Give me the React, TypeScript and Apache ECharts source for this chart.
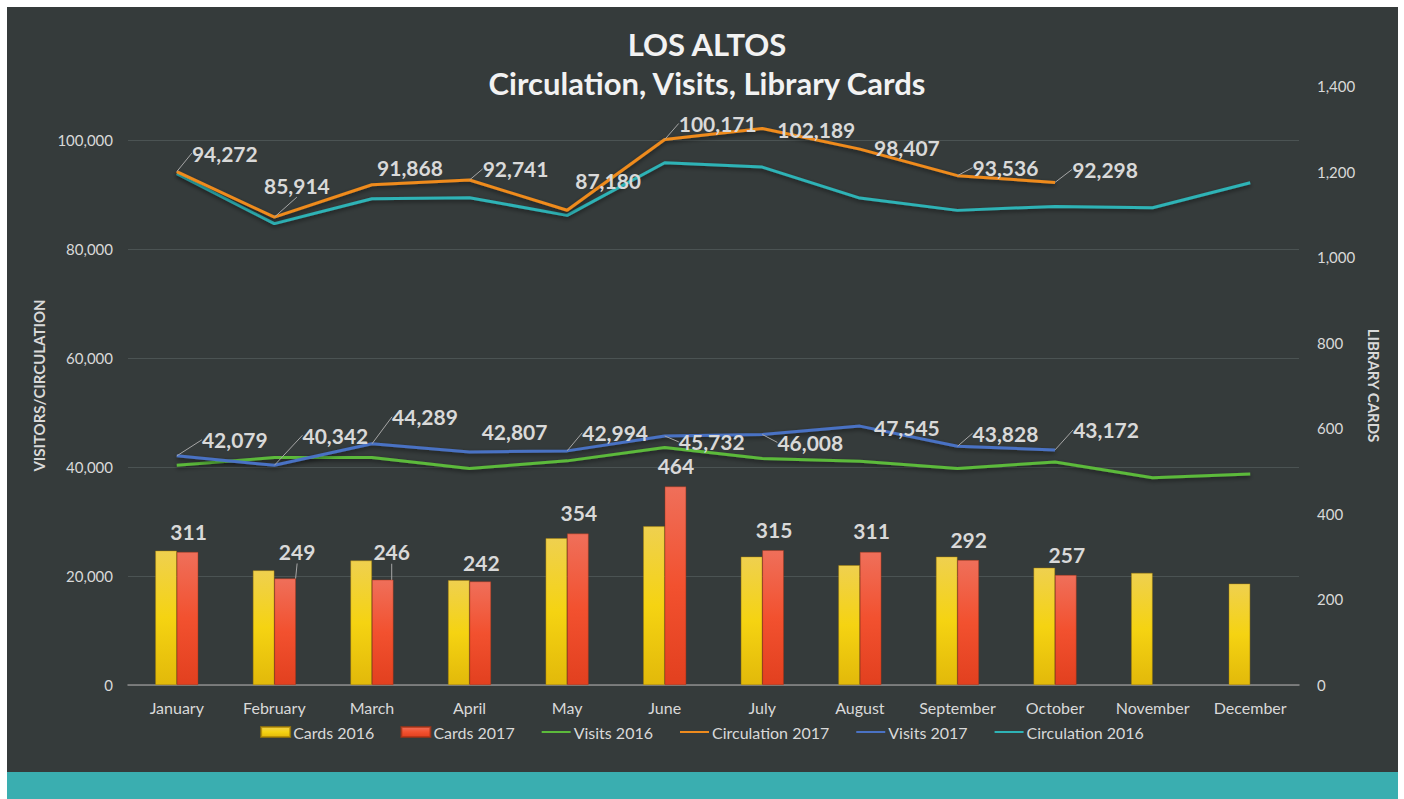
import React, { useEffect, useRef } from "react";
import * as echarts from "echarts";

const months = ["January", "February", "March", "April", "May", "June", "July", "August", "September", "October", "November", "December"];
const cards2016 = [314, 268, 291, 245, 343, 371, 300, 280, 300, 274, 262, 237];
const cards2017 = [311, 249, 246, 242, 354, 464, 315, 311, 292, 257];
const visits2016 = [40370, 41780, 41780, 39760, 41160, 43620, 41600, 41100, 39760, 40970, 38040, 38770];
const visits2017 = [42079, 40342, 44289, 42807, 42994, 45732, 46008, 47545, 43828, 43172];
const circulation2016 = [93890, 84720, 89300, 89490, 86240, 95910, 95110, 89420, 87160, 87890, 87650, 92240];
const circulation2017 = [94272, 85914, 91868, 92741, 87180, 100171, 102189, 98407, 93536, 92298];
const leftTicks = { min: 0, max: 110000, interval: 20000 };
const rightTicks = { min: 0, max: 1400, interval: 200 };

// label placement (offset of label centre from its point), layout only
const circ17Off = [[48, -18.5], [22.5, -32], [38, -17], [46, -11], [41, -30], [53, -16], [54, 1], [47, -2], [48, -8], [50, -13]];
const visits17Off = [[58, -16], [61, -30], [53, -27], [45, -20], [48, -18], [47, 6], [48, 8], [47, 1], [48, -13], [51, -20]];
const cards17Off = [[1, -20], [12, -27], [9, -28], [1, -19], [1, -21], [0.5, -20.5], [1, -21], [1, -21], [0.5, -21], [1, -21]];
const circ17Lead = [1, 1, 0, 1, 0, 1, 0, 0, 1, 1];
const visits17Lead = [1, 1, 1, 0, 1, 1, 1, 0, 1, 1];
const cards17Lead = [0, 1, 1, 0, 0, 0, 0, 0, 0, 0];

const FONT = "Lato, 'Open Sans', sans-serif";
const TXT = "#d9d9d9";
const fmt = (v: number) => Number(v).toLocaleString("en-US");

const labelStyle = {
  show: true,
  position: "top",
  distance: 0,
  lineHeight: 24,
  fontSize: 21,
  fontWeight: "bold",
  fontFamily: FONT,
  color: TXT,
  formatter: (p: any) => fmt(p.value),
};

const withLeaders = (vals: number[], lead: number[]) =>
  vals.map((v, i) => ({ value: v, labelLine: { show: !!lead[i] } }));

const layoutFrom = (off: number[][]) => (params: any) => {
  const o = off[params.dataIndex] || [0, 0];
  return { dx: o[0], dy: o[1] + 12 };
};

const lineShadow = { shadowColor: "rgba(0,0,0,0.5)", shadowBlur: 4, shadowOffsetY: 2 };

export default function App() {
  const ref = useRef<HTMLDivElement>(null);
  useEffect(() => {
    if (!ref.current) return;
    const chart = echarts.init(ref.current, null, { renderer: "svg" });
    const yellow = new echarts.graphic.LinearGradient(0, 0, 0, 1, [
      { offset: 0, color: "#efd04f" },
      { offset: 0.5, color: "#f5d312" },
      { offset: 1, color: "#e2b90a" },
    ]);
    const red = new echarts.graphic.LinearGradient(0, 0, 0, 1, [
      { offset: 0, color: "#ef6f5a" },
      { offset: 0.5, color: "#f2512f" },
      { offset: 1, color: "#e2401f" },
    ]);
    const leaderStyle = { lineStyle: { color: "#a6a6a6", width: 1 } };
    chart.setOption({
      animation: false,
      backgroundColor: "transparent",
      textStyle: { fontFamily: FONT },
      title: {
        text: "LOS ALTOS\nCirculation, Visits, Library Cards",
        left: 702,
        top: 19,
        textAlign: "center",
        textStyle: { color: "#f2f2f2", fontSize: 31, fontWeight: "bold", lineHeight: 39, fontFamily: FONT },
      },
      legend: {
        bottom: 54,
        left: "center",
        itemWidth: 29,
        itemHeight: 10,
        itemGap: 26,
        textStyle: { color: TXT, fontSize: 16, fontFamily: FONT, padding: [0, 0, 0, -2] },
        data: [
          { name: "Cards 2016", icon: "rect" },
          { name: "Cards 2017", icon: "rect" },
          { name: "Visits 2016", itemStyle: { opacity: 0 } },
          { name: "Circulation 2017", itemStyle: { opacity: 0 } },
          { name: "Visits 2017", itemStyle: { opacity: 0 } },
          { name: "Circulation 2016", itemStyle: { opacity: 0 } },
        ],
      },
      grid: { left: 128, right: 105, top: 86, bottom: 114 },
      xAxis: {
        type: "category",
        data: months,
        axisTick: { show: false },
        axisLine: { lineStyle: { color: "#8c8c8c", width: 1.5 } },
        axisLabel: { color: TXT, fontSize: 16, margin: 14, interval: 0, fontFamily: FONT },
      },
      yAxis: [
        {
          type: "value",
          ...leftTicks,
          name: "VISITORS/CIRCULATION",
          nameLocation: "middle",
          nameGap: 82,
          nameTextStyle: { color: TXT, fontSize: 15, fontWeight: "bold", fontFamily: FONT },
          axisLabel: { color: TXT, fontSize: 15, margin: 15, showMaxLabel: false, formatter: (v: number) => fmt(v), fontFamily: FONT },
          axisLine: { show: false },
          axisTick: { show: false },
          splitLine: { lineStyle: { color: "#4b5353", width: 1 }, showMaxLine: false },
        },
        {
          type: "value",
          ...rightTicks,
          name: "LIBRARY CARDS",
          nameLocation: "middle",
          nameGap: 66,
          nameRotate: -90,
          nameTextStyle: { color: TXT, fontSize: 15, fontWeight: "bold", fontFamily: FONT },
          axisLabel: { color: TXT, fontSize: 15, margin: 18, formatter: (v: number) => fmt(v), fontFamily: FONT },
          axisLine: { show: false },
          axisTick: { show: false },
          splitLine: { show: false },
        },
      ],
      series: [
        {
          name: "Cards 2016",
          type: "bar",
          yAxisIndex: 1,
          data: cards2016,
          barWidth: 21.5,
          barGap: "0%",
          itemStyle: { color: yellow, borderColor: "rgba(170,130,0,0.7)", borderWidth: 0.6 },
        },
        {
          name: "Cards 2017",
          type: "bar",
          yAxisIndex: 1,
          data: withLeaders(cards2017, cards17Lead),
          barWidth: 21.5,
          barGap: "0%",
          itemStyle: { color: red, borderColor: "rgba(170,50,20,0.7)", borderWidth: 0.6 },
          label: { ...labelStyle },
          labelLine: leaderStyle,
          labelLayout: layoutFrom(cards17Off),
        },
        {
          name: "Visits 2016",
          type: "line",
          data: visits2016,
          symbol: "circle",
          symbolSize: 0.1,
          itemStyle: { color: "#5cba3b" },
          lineStyle: { color: "#5cba3b", width: 3, ...lineShadow },
          z: 3,
        },
        {
          name: "Visits 2017",
          type: "line",
          data: withLeaders(visits2017, visits17Lead),
          symbol: "circle",
          symbolSize: 0.1,
          itemStyle: { color: "#4a72c4" },
          lineStyle: { color: "#4a72c4", width: 3, ...lineShadow },
          label: { ...labelStyle },
          labelLine: leaderStyle,
          labelLayout: layoutFrom(visits17Off),
          z: 4,
        },
        {
          name: "Circulation 2016",
          type: "line",
          data: circulation2016,
          symbol: "circle",
          symbolSize: 0.1,
          itemStyle: { color: "#2eb3b6" },
          lineStyle: { color: "#2eb3b6", width: 3, ...lineShadow },
          z: 3,
        },
        {
          name: "Circulation 2017",
          type: "line",
          data: withLeaders(circulation2017, circ17Lead),
          symbol: "circle",
          symbolSize: 0.1,
          itemStyle: { color: "#ef8b1d" },
          lineStyle: { color: "#ef8b1d", width: 3, ...lineShadow },
          label: { ...labelStyle },
          labelLine: leaderStyle,
          labelLayout: layoutFrom(circ17Off),
          z: 4,
        },
      ],
    });
    return () => chart.dispose();
  }, []);

  return (
    <div style={{ position: "fixed", left: 0, top: 0, width: 1404, height: 799, background: "#ffffff" }}>
      <div style={{ position: "absolute", left: 7, top: 7, width: 1391, height: 765, background: "#353b3b" }} />
      <div style={{ position: "absolute", left: 7, top: 772, width: 1391, height: 27, background: "#3aaeb0" }} />
      <div ref={ref} style={{ position: "absolute", left: 0, top: 0, width: 1404, height: 799 }} />
    </div>
  );
}
